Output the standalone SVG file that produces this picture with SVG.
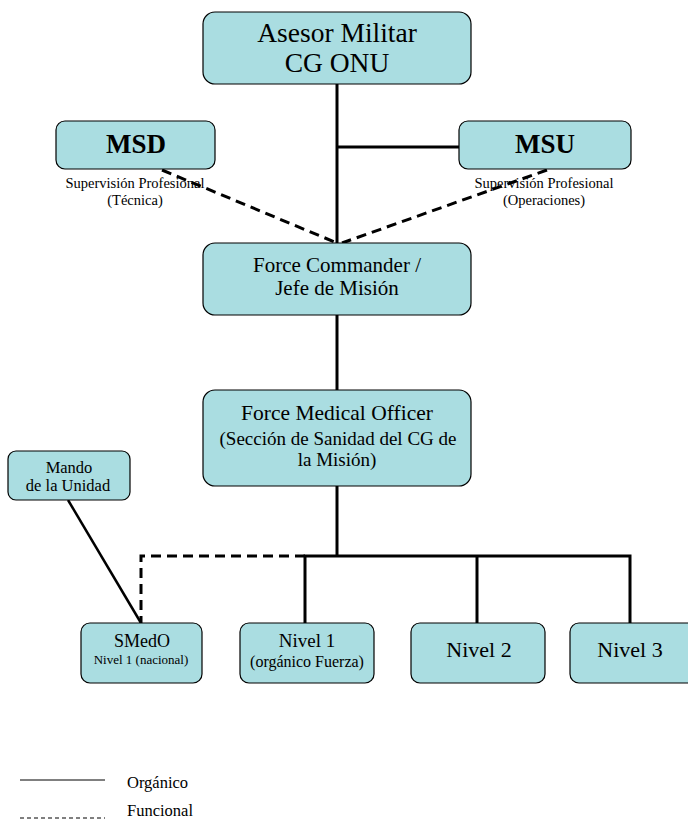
<svg xmlns="http://www.w3.org/2000/svg" width="688" height="819" viewBox="0 0 688 819">
<style>
.box{fill:#aadde1;stroke:#000;stroke-width:1.2}
text{font-family:"Liberation Serif","Times New Roman",serif;fill:#000;text-anchor:middle}
.sol{stroke:#000;stroke-width:3;fill:none}
.dash{stroke:#000;stroke-width:3;fill:none;stroke-dasharray:10,6}
.lg{text-anchor:start}
</style>
<rect width="688" height="819" fill="#fff"/>
<g id="connectors">
<line class="sol" x1="337" y1="84" x2="337" y2="243"/>
<line class="sol" x1="337" y1="147" x2="459" y2="147"/>
<line class="dash" x1="162" y1="170" x2="337" y2="243"/>
<line class="dash" x1="547" y1="170" x2="342" y2="243"/>
<line class="sol" x1="337" y1="315" x2="337" y2="390"/>
<line class="sol" x1="337" y1="486" x2="337" y2="556"/>
<polyline class="sol" points="305,623 305,556 630,556 630,623"/>
<line class="sol" x1="477" y1="556" x2="477" y2="623"/>
<polyline class="dash" points="305,556 141,556 141,623"/>
<line class="sol" x1="68" y1="500" x2="141" y2="623" style="stroke-width:2.5"/>
</g>
<g id="asesor">
<rect class="box" x="203" y="12" width="268" height="72" rx="12"/>
<text x="337" y="42" font-size="27.5">Asesor Militar</text>
<text x="337" y="72" font-size="27.5">CG ONU</text>
</g>
<g id="msd">
<rect class="box" x="56" y="121" width="159" height="48" rx="9"/>
<text x="136" y="153" font-size="27" font-weight="bold">MSD</text>
<text x="135" y="188" font-size="14.5">Supervisión Profesional</text>
<text x="135" y="205" font-size="14.5">(Técnica)</text>
</g>
<g id="msu">
<rect class="box" x="459" y="121" width="172" height="48" rx="9"/>
<text x="545" y="153" font-size="27" font-weight="bold">MSU</text>
<text x="544" y="188" font-size="14.5">Supervisión Profesional</text>
<text x="544" y="205" font-size="14.5">(Operaciones)</text>
</g>
<g id="force-commander">
<rect class="box" x="203" y="243" width="268" height="72" rx="12"/>
<text x="337" y="272" font-size="21">Force Commander /</text>
<text x="337" y="295" font-size="21">Jefe de Misión</text>
</g>
<g id="fmo">
<rect class="box" x="203" y="390" width="268" height="96" rx="12"/>
<text x="337" y="420" font-size="21.5">Force Medical Officer</text>
<text x="338" y="445" font-size="19">(Sección de Sanidad del CG de</text>
<text x="337" y="466" font-size="19">la Misión)</text>
</g>
<g id="mando">
<rect class="box" x="8" y="451" width="122" height="49" rx="8"/>
<text x="69" y="473" font-size="16.5">Mando</text>
<text x="68" y="491" font-size="16.5">de la Unidad</text>
</g>
<g id="smedo">
<rect class="box" x="81" y="623" width="121" height="60" rx="9"/>
<text x="142" y="647" font-size="18">SMedO</text>
<text x="141" y="664" font-size="13">Nivel 1 (nacional)</text>
</g>
<g id="nivel1">
<rect class="box" x="240" y="623" width="134" height="60" rx="9"/>
<text x="307" y="647" font-size="19">Nivel 1</text>
<text x="307" y="667" font-size="16">(orgánico Fuerza)</text>
</g>
<g id="nivel2">
<rect class="box" x="411" y="623" width="134" height="60" rx="9"/>
<text x="479" y="657" font-size="22">Nivel 2</text>
</g>
<g id="nivel3">
<rect class="box" x="570" y="623" width="130" height="60" rx="9"/>
<text x="630" y="657" font-size="22">Nivel 3</text>
</g>
<g id="legend">
<line x1="20" y1="780" x2="105" y2="780" stroke="#000" stroke-width="1"/>
<text class="lg" x="127" y="788" font-size="16.5">Orgánico</text>
<line x1="20" y1="818" x2="105" y2="818" stroke="#000" stroke-width="1" stroke-dasharray="4,3"/>
<text class="lg" x="127" y="816" font-size="16.5">Funcional</text>
</g>
</svg>
